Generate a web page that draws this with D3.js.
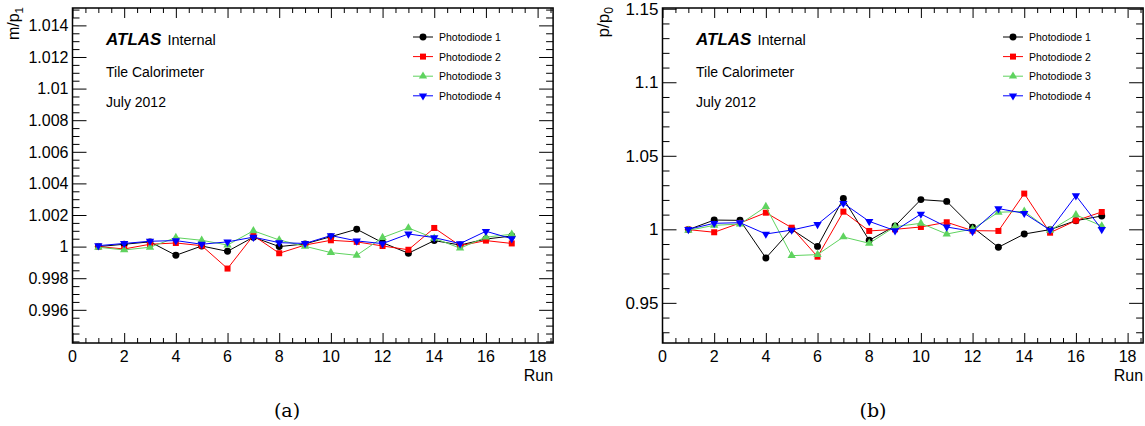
<!DOCTYPE html>
<html><head><meta charset="utf-8">
<script src="https://cdn.jsdelivr.net/npm/d3@7"></script>
<style>
body{margin:0;background:#fff}
svg{display:block}
text{font-family:"Liberation Sans",Arial,Helvetica,sans-serif;fill:#000}
</style>
</head><body>
<svg id="c" width="1145" height="426"></svg>
<script>
// ---------- data ----------
const runs = [1,2,3,4,5,6,7,8,9,10,11,12,13,14,15,16,17];
const seriesNames = ["Photodiode 1","Photodiode 2","Photodiode 3","Photodiode 4"];

// panel (a): m/p1
const mp_pd1 = [1.0000,1.00015,1.0003,0.99945,1.00004,0.9997,1.0006,1.0000,1.00017,1.00063,1.0011,1.00025,0.99958,1.00038,1.0001,1.00048,1.00067];
const mp_pd2 = [1.0000,0.99985,1.00015,1.00023,1.00006,0.99861,1.0007,0.99958,1.0001,1.0004,1.0003,1.00004,0.9998,1.00118,1.00006,1.00038,1.0002];
const mp_pd3 = [0.99996,0.99979,0.99996,1.00057,1.0004,1.0001,1.001,1.00042,1.00002,0.99962,0.99945,1.00057,1.00118,1.00053,0.9999,1.0006,1.00078];
const mp_pd4 = [1.00006,1.0002,1.00034,1.00038,1.00015,1.0003,1.0006,1.00025,1.0002,1.0007,1.00036,1.00019,1.0008,1.00057,1.00019,1.00097,1.0005];

// panel (b): p/p0
const pp_pd1 = [0.9998,1.0063,1.0061,0.9805,1.0000,0.9884,1.0209,0.9925,1.0023,1.0202,1.0190,1.0014,0.9878,0.9968,0.9998,1.0059,1.0091];
const pp_pd2 = [0.9998,0.9980,1.0043,1.0113,1.0011,0.9814,1.0120,0.9989,1.0000,1.0016,1.0048,0.9991,0.9989,1.0243,0.9977,1.0059,1.0118];
const pp_pd3 = [0.9993,1.0027,1.0036,1.0154,0.9821,0.9828,0.9948,0.9905,1.0018,1.0041,0.9968,1.0002,1.0116,1.0122,0.9993,1.0098,1.0023];
const pp_pd4 = [1.0000,1.0041,1.0045,0.9968,0.9995,1.0034,1.0177,1.0054,0.9991,1.0104,1.0016,0.9986,1.0141,1.0109,0.9995,1.0229,1.0000];

// ticks
const xTicks = [0,2,4,6,8,10,12,14,16,18];
const xTickLabels = ["0","2","4","6","8","10","12","14","16","18"];
const yTicksA = [0.996,0.998,1.000,1.002,1.004,1.006,1.008,1.010,1.012,1.014];
const yTickLabelsA = ["0.996","0.998","1","1.002","1.004","1.006","1.008","1.01","1.012","1.014"];
const yTicksB = [0.95,1.00,1.05,1.10,1.15];
const yTickLabelsB = ["0.95","1","1.05","1.1","1.15"];
const textLines = ["Tile Calorimeter","July 2012"];

// ---------- style ----------
const colors = ["#000000","#ff0000","#5fd35f","#0000ff"];
const symbols = [d3.symbolCircle, d3.symbolSquare, d3.symbolTriangle, d3.symbolTriangle];
const symSizes = [38, 36, 30, 30];
const symRot = [0,0,0,180];

const svg = d3.select("#c");

function drawPanel(cfg){
  const g = svg.append("g");
  const x = d3.scaleLinear().domain([0,18.6]).range([cfg.x0, cfg.x1]);
  const y = d3.scaleLinear().domain(cfg.yDomain).range([343, 8]);

  const xMinor = d3.range(0, 18.6, 0.5).filter(v => Math.abs(v/2 - Math.round(v/2)) > 1e-6);
  const yMinor = d3.range(cfg.yDomain[0], cfg.yDomain[1]+cfg.yMinorStep*0.01, cfg.yMinorStep)
      .map(v => Math.round(v/cfg.yMinorStep)*cfg.yMinorStep)
      .filter(v => v >= cfg.yDomain[0] && v <= cfg.yDomain[1])
      .filter(v => !cfg.yTicks.some(t => Math.abs(t - v) < cfg.yMinorStep*0.1));

  const tickStyle = sel => { sel.select(".domain").remove(); sel.selectAll("line").attr("stroke","#000").attr("stroke-width",1); };

  g.append("g").attr("transform",`translate(0,${y.range()[0]})`)
    .call(d3.axisTop(x).tickValues(xTicks).tickSize(10).tickFormat("")).call(tickStyle);
  g.append("g").attr("transform",`translate(0,${y.range()[0]})`)
    .call(d3.axisTop(x).tickValues(xMinor).tickSize(5).tickFormat("")).call(tickStyle);
  g.append("g").attr("transform",`translate(0,${y.range()[1]})`)
    .call(d3.axisBottom(x).tickValues(xTicks).tickSize(10).tickFormat("")).call(tickStyle);
  g.append("g").attr("transform",`translate(0,${y.range()[1]})`)
    .call(d3.axisBottom(x).tickValues(xMinor).tickSize(5).tickFormat("")).call(tickStyle);
  g.append("g").attr("transform",`translate(${cfg.x0},0)`)
    .call(d3.axisRight(y).tickValues(cfg.yTicks).tickSize(14).tickFormat("")).call(tickStyle);
  g.append("g").attr("transform",`translate(${cfg.x0},0)`)
    .call(d3.axisRight(y).tickValues(yMinor).tickSize(7).tickFormat("")).call(tickStyle);
  g.append("g").attr("transform",`translate(${cfg.x1},0)`)
    .call(d3.axisLeft(y).tickValues(cfg.yTicks).tickSize(14).tickFormat("")).call(tickStyle);
  g.append("g").attr("transform",`translate(${cfg.x1},0)`)
    .call(d3.axisLeft(y).tickValues(yMinor).tickSize(7).tickFormat("")).call(tickStyle);

  g.append("rect").attr("x",cfg.x0).attr("y",y.range()[1])
    .attr("width",cfg.x1-cfg.x0).attr("height",y.range()[0]-y.range()[1])
    .attr("fill","none").attr("stroke","#000").attr("stroke-width",1.5);

  g.selectAll(".xl").data(xTicks).enter().append("text")
    .attr("x", d => x(d)).attr("y", 362).attr("text-anchor","middle")
    .attr("font-size", 16).text((d,i) => xTickLabels[i]);
  g.selectAll(".yl").data(cfg.yTicks).enter().append("text")
    .attr("x", cfg.x0 - 4).attr("y", d => y(d)).attr("dy","0.36em")
    .attr("text-anchor","end").attr("font-size", cfg.yFont)
    .text((d,i) => cfg.yTickLabels[i]);

  g.append("text").attr("x", cfg.x1).attr("y", 381).attr("text-anchor","end")
    .attr("font-size", 16).text("Run");
  const yt = g.append("text")
    .attr("transform",`translate(${cfg.x0-54},${y.range()[1]-1}) rotate(-90)`)
    .attr("text-anchor","end").attr("font-size", cfg.yFont);
  yt.append("tspan").text(cfg.yTitle);
  yt.append("tspan").attr("font-size", cfg.yFont*0.72).attr("dy", 4).text(cfg.yTitleSub);

  const t = g.append("text").attr("x", cfg.x0+33.5).attr("y", 45);
  t.append("tspan").attr("font-weight","bold").attr("font-style","italic").attr("font-size",17).text("ATLAS");
  t.append("tspan").attr("font-size",14.5).attr("dx",6).text("Internal");
  textLines.forEach((s,i) => {
    g.append("text").attr("x", cfg.x0+33.5).attr("y", 77 + i*30).attr("font-size",14).text(s);
  });

  cfg.series.forEach((vals, si) => {
    const pts = runs.map((r,i) => [r, vals[i]]);
    g.append("path").datum(pts)
      .attr("d", d3.line().x(d => x(d[0])).y(d => y(d[1])))
      .attr("fill","none").attr("stroke",colors[si]).attr("stroke-width",1);
    g.selectAll(null).data(pts).enter().append("path")
      .attr("d", d3.symbol().type(symbols[si]).size(symSizes[si]))
      .attr("transform", d => `translate(${x(d[0])},${y(d[1])}) rotate(${symRot[si]})`)
      .attr("fill", colors[si]);
  });

  seriesNames.forEach((name, si) => {
    const ly = 37 + si*19.6;
    const lx = cfg.x0 + 340.5;
    g.append("line").attr("x1",lx).attr("x2",lx+20).attr("y1",ly).attr("y2",ly)
      .attr("stroke",colors[si]).attr("stroke-width",1);
    g.append("path").attr("d", d3.symbol().type(symbols[si]).size(symSizes[si]))
      .attr("transform",`translate(${lx+10},${ly}) rotate(${symRot[si]})`)
      .attr("fill",colors[si]);
    g.append("text").attr("x", lx+26).attr("y", ly+4).attr("font-size",10.5).text(name);
  });

  svg.append("text").attr("x", cfg.capX).attr("y", 417).attr("text-anchor","middle")
    .style("font-family","'DejaVu Serif','Liberation Serif',serif").attr("font-size",19)
    .text(cfg.caption);
}

drawPanel({x0:72.5, x1:553.1, yDomain:[0.9939,1.0151], yTicks:yTicksA, yTickLabels:yTickLabelsA,
  yMinorStep:0.0005, yFont:16, yTitle:"m/p", yTitleSub:"1",
  series:[mp_pd1,mp_pd2,mp_pd3,mp_pd4], caption:"(a)", capX:287});
drawPanel({x0:662.5, x1:1143.1, yDomain:[0.9227,1.1505], yTicks:yTicksB, yTickLabels:yTickLabelsB,
  yMinorStep:0.01, yFont:17, yTitle:"p/p", yTitleSub:"0",
  series:[pp_pd1,pp_pd2,pp_pd3,pp_pd4], caption:"(b)", capX:873});
</script>
</body></html>
